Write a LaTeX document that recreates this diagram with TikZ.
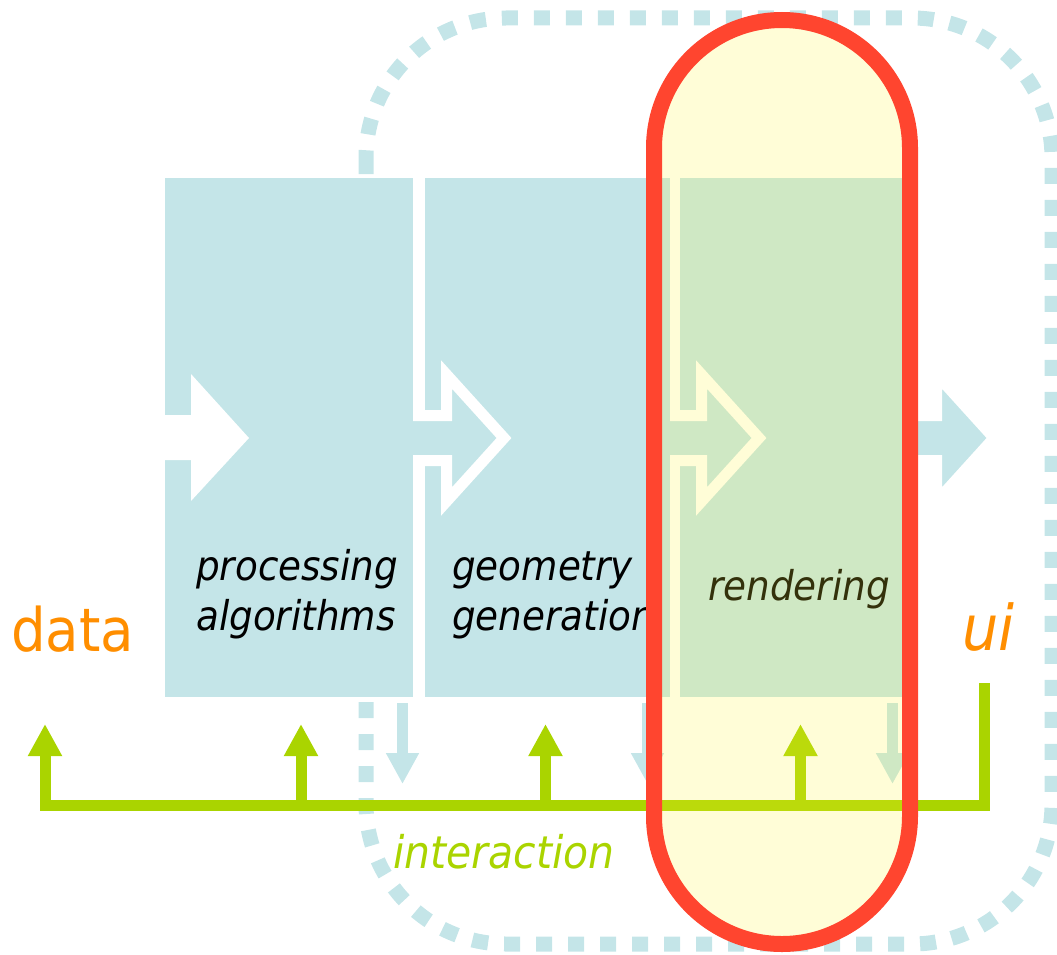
\documentclass[tikz,border=0pt]{standalone}
\usepackage{fontspec}
\usetikzlibrary{arrows.meta}
\newfontfamily\tah{DejaVu Sans}[FakeStretch=0.91]

\definecolor{stageblue}{RGB}{196,229,232}
\definecolor{lime}{RGB}{170,212,0}
\definecolor{tangerine}{RGB}{255,142,0}
\definecolor{alert}{RGB}{255,69,47}
\definecolor{hilite}{RGB}{255,245,55}

\tikzset{
  stage/.style={fill=stageblue, draw=none, inner sep=0pt, outer sep=0pt, anchor=north west},
  flowarrow/.style={fill=stageblue, draw=white, line width=11pt, miter limit=10},
  outarrow/.style={line width=11pt, draw=stageblue,
    -{Triangle[width=31pt,length=31pt]}},
  uparrow/.style={line width=11pt, draw=lime,
    -{Triangle[width=32pt,length=32pt]}},
  scopeframe/.style={draw=stageblue, line width=15pt, dash pattern=on 16pt off 16pt,
    rounded corners=140pt},
  capsule/.style={draw=alert, line width=16pt, fill=hilite, fill opacity=0.2,
    draw opacity=1, rounded corners=128pt},
  steplabel/.style={anchor=base west, inner sep=0pt, align=left,
    font=\tah\itshape\fontsize{41}{50}\selectfont},
}

\begin{document}
\begin{tikzpicture}[x=1pt, y=-1pt]
\useasboundingbox (0,0) rectangle (1057,955);

% interactive scope
\draw[scopeframe] (366,18) rectangle (1052,944);

% pipeline stages
\node[stage, minimum width=248pt, minimum height=519pt] (b1) at (165,178) {};
\node[stage, minimum width=245pt, minimum height=519pt] (b2) at (425,178) {};
\node[stage, minimum width=235pt, minimum height=519pt] (b3) at (680,178) {};

% data flow arrows
\fill[white] (150,415) -- (191,415) -- (191,374) -- (249,438) -- (191,501)
  -- (191,460) -- (150,460) -- cycle;
\filldraw[flowarrow] (413,415.5) -- (446.5,415.5) -- (446.5,374.5) -- (504,438)
  -- (446.5,501.5) -- (446.5,460.5) -- (413,460.5);
\filldraw[flowarrow] (670,415.5) -- (701.5,415.5) -- (701.5,374.5) -- (759,438)
  -- (701.5,501.5) -- (701.5,460.5) -- (670,460.5);
\filldraw[flowarrow] (915,415.5) -- (936.5,415.5) -- (936.5,374.5) -- (994,438)
  -- (936.5,501.5) -- (936.5,460.5) -- (915,460.5);

% stage names (anchored on the baseline of the last line)
\node[steplabel] (t1) at (196,630) {processing\\algorithms};
\node[steplabel] (t2) at (452,630) {geometry\\generation};
\node[steplabel] (t3) at (708,600) {rendering};

% stage outputs
\coordinate (d1s) at (402.5,703); \coordinate (d1e) at (402.5,784);
\coordinate (d2s) at (647.5,703); \coordinate (d2e) at (647.5,784);
\coordinate (d3s) at (892.5,703); \coordinate (d3e) at (892.5,784);
\draw[outarrow] (d1s) -- (d1e);
\draw[outarrow] (d2s) -- (d2e);
\draw[outarrow] (d3s) -- (d3e);

% interaction bus
\coordinate (u0) at (45,724);
\coordinate (ui0) at (984,683);
\coordinate (busL) at (45,805.5);
\coordinate (busR) at (984,805.5);
\draw[line width=11pt, draw=lime, {Triangle[width=32pt,length=32pt]}-]
  (u0) -- (busL) -- (busR) -- (ui0);
\coordinate (u1s) at (301,805.5);   \coordinate (u1) at (301,724);
\coordinate (u2s) at (545.5,805.5); \coordinate (u2) at (545.5,724);
\coordinate (u3s) at (800.5,805.5); \coordinate (u3) at (800.5,724);
\draw[uparrow] (u1s) -- (u1);
\draw[uparrow] (u2s) -- (u2);
\draw[uparrow] (u3s) -- (u3);

% highlighted stage
\draw[capsule] (654,20) rectangle (910,944);

% end labels
\node[anchor=base west, inner sep=0pt, text=tangerine,
  font=\tah\fontsize{60}{62}\selectfont] (data) at (11,651) {data};
\node[anchor=base west, inner sep=0pt, text=tangerine,
  font=\tah\itshape\fontsize{63}{65}\selectfont] (ui) at (962,650) {ui};
\node[anchor=base west, inner sep=0pt, text=lime,
  font=\tah\itshape\fontsize{45}{47}\selectfont] (inter) at (393,868) {interaction};
\end{tikzpicture}
\end{document}
